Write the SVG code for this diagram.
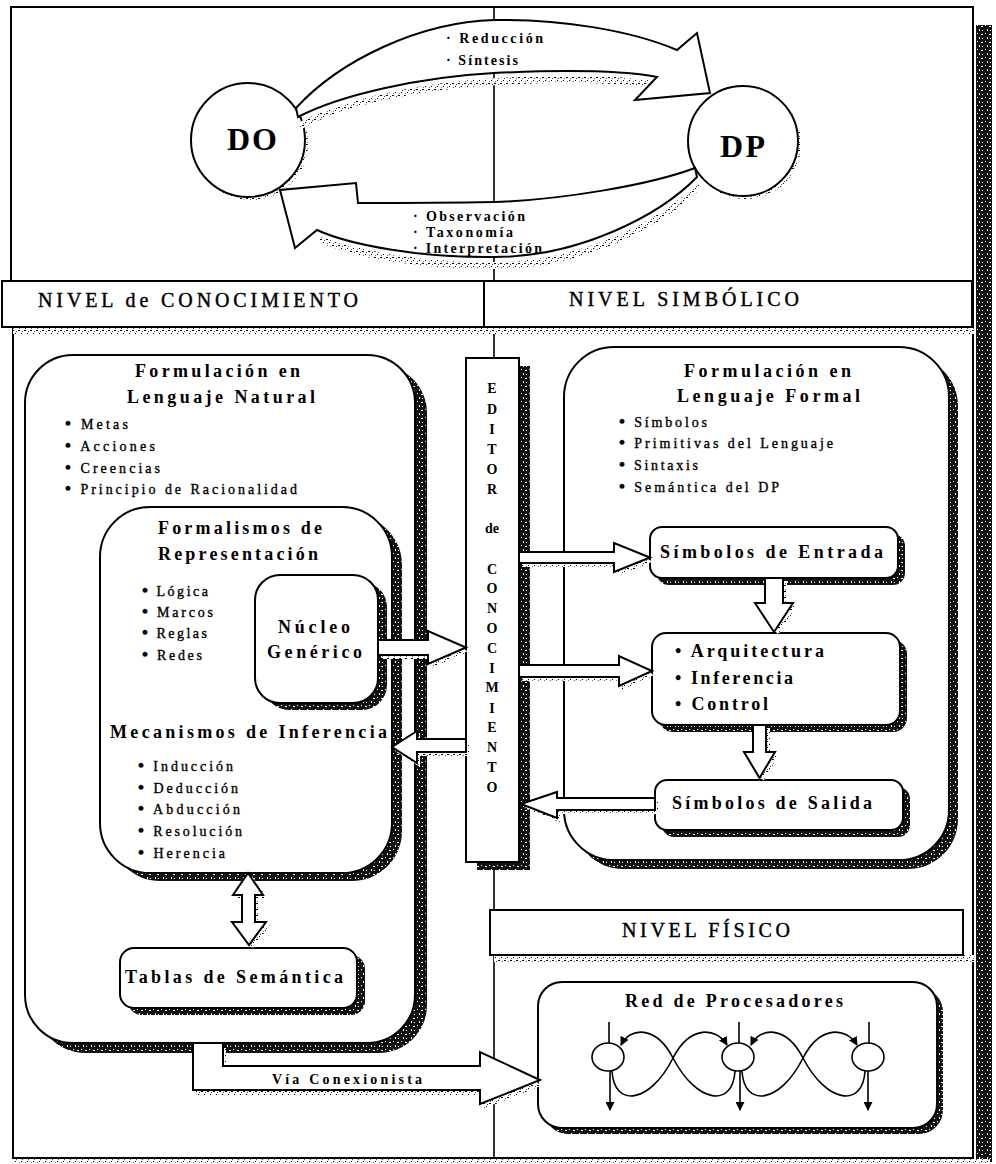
<svg xmlns="http://www.w3.org/2000/svg" width="996" height="1164" viewBox="0 0 996 1164">
<style>
.ln{fill:none;stroke:#000;stroke-width:2}
.cl{fill:none;stroke:#000;stroke-width:1.6}
.bx{fill:#fff;stroke:#000;stroke-width:2}
.sh{fill:url(#st);stroke:none}
.ls{fill:url(#lt);stroke:none}
.ar{fill:#fff;stroke:#000;stroke-width:2;stroke-linejoin:miter}
.nw{fill:none;stroke:#000;stroke-width:1.6}
.nd{fill:#fff;stroke:#000;stroke-width:1.6}
.t{font-family:"Liberation Serif","Times New Roman",serif;fill:#000}
.ti{font-size:18px;font-weight:bold}
.bu{font-size:14px;stroke:#000;stroke-width:0.35}
.hd{font-size:20px;stroke:#000;stroke-width:0.4}
.sm{font-size:14px;font-weight:bold}
.ed{font-size:14px;font-weight:bold;text-anchor:middle}
.big{font-size:32px;font-weight:bold}
.dot{font-size:17px;font-weight:bold}
</style>
<defs>
<pattern id="st" width="8" height="8" patternUnits="userSpaceOnUse">
<rect width="8" height="8" fill="#111"/>
<rect x="1" y="1" width="1" height="1" fill="#fff"/>
<rect x="5" y="2" width="2" height="1" fill="#fff"/>
<rect x="3" y="5" width="1" height="2" fill="#fff"/>
<rect x="6" y="6" width="1" height="1" fill="#fff"/>
</pattern>
<pattern id="lt" width="6" height="6" patternUnits="userSpaceOnUse">
<rect width="6" height="6" fill="#fff"/>
<rect x="0" y="0" width="2" height="1" fill="#000"/>
<rect x="3" y="3" width="1" height="1" fill="#000"/>
<rect x="4" y="1" width="1" height="1" fill="#444"/>
<rect x="1" y="4" width="1" height="1" fill="#666"/>
</pattern>
<marker id="ah" markerWidth="9" markerHeight="9" refX="8" refY="4.5" orient="auto" markerUnits="userSpaceOnUse">
<path d="M0,0 L9,4.5 L0,9 Z" fill="#000"/>
</marker>
</defs>
<rect width="996" height="1164" fill="#fff"/>

<g id="frame">
<rect x="976" y="25" width="16" height="1137" class="sh"/>
<rect x="15" y="1159" width="975" height="5" class="ls"/>
<path class="ln" d="M11,281 V7 H973 V1158 H13 V327"/>
<path class="cl" d="M494,7 V281 M494,327 V358 M494,862 V1158"/>
<rect x="13" y="328" width="962" height="6" class="ls"/>
</g>

<g id="node-DO">
<circle cx="251" cy="143" r="57" class="ls"/>
<circle cx="248" cy="140" r="57" class="bx"/>
<text class="t big" x="227" y="150" textLength="50">DO</text>
</g>
<g id="node-DP">
<circle cx="746" cy="144" r="55" class="ls"/>
<circle cx="743" cy="141" r="55" class="bx"/>
<text class="t big" x="720" y="157" textLength="45">DP</text>
</g>

<g id="hdr-conocimiento">
<rect x="2" y="281" width="482" height="46" class="bx"/>
<text class="t hd" x="38" y="307" textLength="320">NIVEL de CONOCIMIENTO</text>
</g>
<g id="hdr-simbolico">
<rect x="484" y="281" width="488" height="46" class="bx"/>
<text class="t hd" x="569" y="306" textLength="230">NIVEL SIMBÓLICO</text>
</g>

<g id="box-lenguaje-natural">
<rect x="37" y="365" width="390" height="688" rx="48" class="sh"/>
<rect x="25" y="355" width="390" height="688" rx="48" class="bx"/>
<text class="t ti" x="135" y="377" textLength="165">Formulación en</text>
<text class="t ti" x="127" y="403" textLength="188">Lenguaje Natural</text>
<text class="t bu" x="65" y="429" textLength="63"><tspan class="dot">•</tspan> Metas</text>
<text class="t bu" x="65" y="451" textLength="90"><tspan class="dot">•</tspan> Acciones</text>
<text class="t bu" x="65" y="473" textLength="95"><tspan class="dot">•</tspan> Creencias</text>
<text class="t bu" x="65" y="494" textLength="232"><tspan class="dot">•</tspan> Principio de Racionalidad</text>
</g>

<g id="box-formalismos">
<rect x="110" y="515" width="292" height="366" rx="50" class="sh"/>
<rect x="100" y="507" width="292" height="366" rx="50" class="bx"/>
<text class="t ti" x="158" y="534" textLength="164">Formalismos de</text>
<text class="t ti" x="158" y="560" textLength="160">Representación</text>
<text class="t bu" x="142" y="596" textLength="66"><tspan class="dot">•</tspan> Lógica</text>
<text class="t bu" x="142" y="617" textLength="71"><tspan class="dot">•</tspan> Marcos</text>
<text class="t bu" x="142" y="638" textLength="65"><tspan class="dot">•</tspan> Reglas</text>
<text class="t bu" x="142" y="660" textLength="60"><tspan class="dot">•</tspan> Redes</text>
<text class="t ti" x="110" y="738" textLength="277">Mecanismos de Inferencia</text>
<text class="t bu" x="138" y="771" textLength="95"><tspan class="dot">•</tspan> Inducción</text>
<text class="t bu" x="138" y="793" textLength="100"><tspan class="dot">•</tspan> Deducción</text>
<text class="t bu" x="138" y="814" textLength="102"><tspan class="dot">•</tspan> Abducción</text>
<text class="t bu" x="138" y="836" textLength="104"><tspan class="dot">•</tspan> Resolución</text>
<text class="t bu" x="138" y="858" textLength="87"><tspan class="dot">•</tspan> Herencia</text>
</g>

<g id="box-nucleo">
<rect x="264" y="582" width="123" height="128" rx="25" class="sh"/>
<rect x="255" y="575" width="123" height="128" rx="25" class="bx"/>
<text class="t ti" x="278" y="633" textLength="72">Núcleo</text>
<text class="t ti" x="267" y="658" textLength="95">Genérico</text>
</g>

<g id="box-tablas">
<rect x="128" y="955" width="237" height="60" rx="14" class="sh"/>
<rect x="120" y="948" width="237" height="60" rx="14" class="bx"/>
<text class="t ti" x="125" y="983" textLength="218">Tablas de Semántica</text>
</g>

<g id="editor">
<rect x="477" y="366" width="53" height="504" class="sh"/>
<rect x="466" y="358" width="53" height="504" class="bx"/>
<text class="t ed" x="492" y="393">E</text>
<text class="t ed" x="492" y="414">D</text>
<text class="t ed" x="492" y="434">I</text>
<text class="t ed" x="492" y="454">T</text>
<text class="t ed" x="492" y="474">O</text>
<text class="t ed" x="492" y="494">R</text>
<text class="t ed" x="492" y="533">de</text>
<text class="t ed" x="492" y="574">C</text>
<text class="t ed" x="492" y="593">O</text>
<text class="t ed" x="492" y="613">N</text>
<text class="t ed" x="492" y="633">O</text>
<text class="t ed" x="492" y="653">C</text>
<text class="t ed" x="492" y="673">I</text>
<text class="t ed" x="492" y="692">M</text>
<text class="t ed" x="492" y="713">I</text>
<text class="t ed" x="492" y="732">E</text>
<text class="t ed" x="492" y="752">N</text>
<text class="t ed" x="492" y="772">T</text>
<text class="t ed" x="492" y="792">O</text>
</g>

<g id="box-lenguaje-formal">
<rect x="573" y="356" width="385" height="513" rx="50" class="sh"/>
<rect x="564" y="347" width="385" height="513" rx="50" class="bx"/>
<text class="t ti" x="684" y="377" textLength="167">Formulación en</text>
<text class="t ti" x="677" y="402" textLength="183">Lenguaje Formal</text>
<text class="t bu" x="619" y="427" textLength="88"><tspan class="dot">•</tspan> Símbolos</text>
<text class="t bu" x="619" y="448" textLength="214"><tspan class="dot">•</tspan> Primitivas del Lenguaje</text>
<text class="t bu" x="619" y="470" textLength="79"><tspan class="dot">•</tspan> Sintaxis</text>
<text class="t bu" x="619" y="492" textLength="160"><tspan class="dot">•</tspan> Semántica del DP</text>
</g>

<g id="box-entrada">
<rect x="657" y="534" width="248" height="51" rx="12" class="sh"/>
<rect x="650" y="527" width="248" height="51" rx="12" class="bx"/>
<text class="t ti" x="660" y="558" textLength="223">Símbolos de Entrada</text>
</g>

<g id="box-arquitectura">
<rect x="659" y="640" width="248" height="92" rx="14" class="sh"/>
<rect x="652" y="633" width="248" height="92" rx="14" class="bx"/>
<text class="t ti" x="675" y="657" textLength="149"><tspan>•</tspan> Arquitectura</text>
<text class="t ti" x="675" y="684" textLength="118"><tspan>•</tspan> Inferencia</text>
<text class="t ti" x="675" y="710" textLength="93"><tspan>•</tspan> Control</text>
</g>

<g id="box-salida">
<rect x="662" y="787" width="248" height="50" rx="12" class="sh"/>
<rect x="655" y="780" width="248" height="50" rx="12" class="bx"/>
<text class="t ti" x="672" y="809" textLength="200">Símbolos de Salida</text>
</g>

<g id="hdr-fisico">
<rect x="494" y="955" width="481" height="7" class="ls"/>
<rect x="490" y="910" width="473" height="45" class="bx"/>
<text class="t hd" x="622" y="937" textLength="168">NIVEL FÍSICO</text>
</g>

<g id="box-red">
<rect x="544" y="988" width="399" height="146" rx="24" class="sh"/>
<rect x="538" y="982" width="399" height="146" rx="24" class="bx"/>
<text class="t ti" x="625" y="1007" textLength="218">Red de Procesadores</text>
<path class="nw" d="M609,1022 V1043 M739,1022 V1043 M869,1022 V1043"/>
<path class="nw" marker-end="url(#ah)" d="M610,1071 V1110"/>
<path class="nw" marker-end="url(#ah)" d="M740,1071 V1110"/>
<path class="nw" marker-end="url(#ah)" d="M868,1071 V1110"/>
<path class="nw" marker-end="url(#ah)" d="M612,1071 C614,1108 650,1104 673,1058 C690,1025 716,1027 727,1045"/>
<path class="nw" marker-end="url(#ah)" d="M735,1071 C733,1108 697,1104 673,1058 C656,1025 630,1027 621,1045"/>
<path class="nw" marker-end="url(#ah)" d="M742,1071 C744,1108 780,1104 803,1058 C820,1025 846,1027 857,1045"/>
<path class="nw" marker-end="url(#ah)" d="M865,1071 C863,1108 827,1104 803,1058 C786,1025 760,1027 751,1045"/>
<ellipse cx="608" cy="1057" rx="16" ry="14" class="nd"/>
<ellipse cx="738" cy="1057" rx="16" ry="14" class="nd"/>
<ellipse cx="868" cy="1057" rx="16" ry="14" class="nd"/>
</g>

<g id="connectors">
<path class="ls" transform="translate(2,5)" d="M657,77 C620,70 560,70 494,73 C420,77 340,95 298,117 L298,125 C340,100 420,84 494,80 C560,77 620,77 657,84 Z"/>
<path class="ar" d="M296,108 C340,60 420,22 494,20 C560,19 630,30 677,50 L697,33 L710,93 L635,100 L657,77 C620,70 560,70 494,73 C420,77 340,95 298,117 Z"/>
<path class="ls" transform="translate(2,5)" d="M317,230 C350,245 420,258 494,257 C580,257 660,215 697,177 L697,185 C660,222 580,264 494,264 C420,265 350,252 317,237 Z"/>
<path class="ar" d="M695,168 C650,185 560,200 494,202 C440,203 390,203 358,203 L356,183 L280,190 L295,248 L317,230 C350,245 420,258 494,257 C580,257 660,215 697,177 Z"/>
<text class="t sm" x="446" y="43" textLength="97">· Reducción</text>
<text class="t sm" x="446" y="65" textLength="72">· Síntesis</text>
<text class="t sm" x="413" y="221" textLength="112">· Observación</text>
<text class="t sm" x="413" y="237" textLength="100">· Taxonomía</text>
<text class="t sm" x="413" y="253" textLength="129">· Interpretación</text>

<path class="ls" transform="translate(3,4)" d="M378,640 H428 V631 L466,647.5 L428,664 V655 H378 Z"/>
<path class="ar" d="M378,640 H428 V631 L466,647.5 L428,664 V655 H378 Z"/>
<path class="ls" transform="translate(3,4)" d="M466,739 H417 V731 L392,747 L417,763 V752 H466 Z"/>
<path class="ar" d="M466,739 H417 V731 L392,747 L417,763 V752 H466 Z"/>
<path class="ls" transform="translate(3,4)" d="M519,552 H614 V543 L650,557.5 L614,572 V563 H519 Z"/>
<path class="ar" d="M519,552 H614 V543 L650,557.5 L614,572 V563 H519 Z"/>
<path class="ls" transform="translate(3,4)" d="M519,665 H619 V656 L652,671 L619,686 V677 H519 Z"/>
<path class="ar" d="M519,665 H619 V656 L652,671 L619,686 V677 H519 Z"/>
<path class="ls" transform="translate(3,4)" d="M655,798 H557 V792 L521,804 L557,818 V810 H655 Z"/>
<path class="ar" d="M655,798 H557 V792 L521,804 L557,818 V810 H655 Z"/>
<path class="ls" transform="translate(4,3)" d="M765,578 V603 H755 L774,632 L793,603 H783 V578 Z"/>
<path class="ar" d="M765,578 V603 H755 L774,632 L793,603 H783 V578 Z"/>
<path class="ls" transform="translate(4,3)" d="M753,725 V752 H744 L759.5,778 L775,752 H766 V725 Z"/>
<path class="ar" d="M753,725 V752 H744 L759.5,778 L775,752 H766 V725 Z"/>
<path class="ls" transform="translate(4,3)" d="M248,873 L263,895 L255,895 L255,922 L266,922 L249,945 L232,922 L242,922 L242,895 L233,895 Z"/>
<path class="ar" d="M248,873 L263,895 L255,895 L255,922 L266,922 L249,945 L232,922 L242,922 L242,895 L233,895 Z"/>
<path class="ls" transform="translate(3,5)" d="M193,1043 V1090 H480 V1104 L540,1080 L480,1052 V1066 H223 V1043 Z"/>
<path class="ar" d="M193,1043 V1090 H480 V1104 L540,1080 L480,1052 V1066 H223 V1043 Z"/>
<text class="t sm" x="272" y="1084" textLength="150">Vía Conexionista</text>
</g>
</svg>
